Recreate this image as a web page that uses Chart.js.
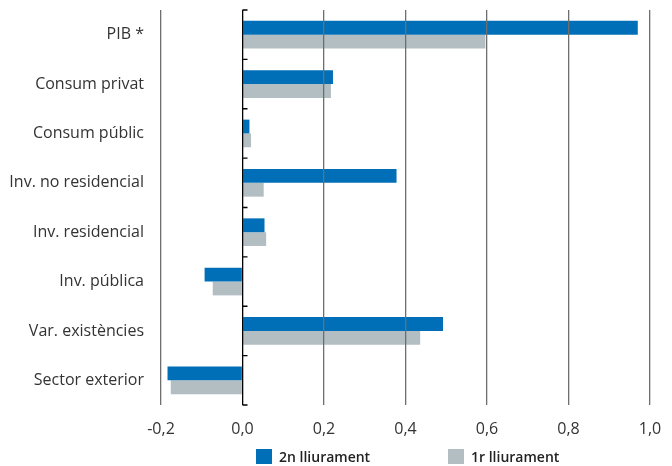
<!DOCTYPE html>
<html>
<head>
<meta charset="utf-8">
<script src="https://cdn.jsdelivr.net/npm/chart.js@4.4.1/dist/chart.umd.min.js"></script>
<style>
  html,body{margin:0;padding:0;background:#fff;}
  #wrap{position:relative;width:672px;height:466px;}
  #legend{position:absolute;top:449px;left:0;width:672px;height:16px;font-family:"Open Sans",sans-serif;font-size:14px;font-weight:600;color:#222;}
  .item{position:absolute;top:0;height:16px;line-height:16px;white-space:nowrap;}
  .box{display:inline-block;width:16px;height:15px;vertical-align:top;margin-right:7px;}
</style>
</head>
<body>
<div id="wrap">
  <canvas id="chart" width="672" height="466"></canvas>
  <div id="legend"></div>
</div>
<script>
var categories=['PIB *','Consum privat','Consum públic','Inv. no residencial','Inv. residencial','Inv. pública','Var. existències','Sector exterior'];
var segon=[0.97,0.222,0.017,0.378,0.054,-0.093,0.492,-0.184];
var primer=[0.596,0.217,0.021,0.052,0.058,-0.073,0.436,-0.176];
var seriesNames=['2n lliurament','1r lliurament'];
var colors=['#006fb7','#b3bec3'];
var xTicks=[-0.2,0,0.2,0.4,0.6,0.8,1.0];

// little black marks on the zero line, one at each category boundary
var zeroTicks={
  id:'zeroTicks',
  afterDatasetsDraw:function(chart){
    var ctx=chart.ctx,x=chart.scales.x,y=chart.scales.y;
    var x0=x.getPixelForValue(0);
    var half=(y.getPixelForValue(1)-y.getPixelForValue(0))/2;
    ctx.save();
    ctx.strokeStyle='#000';
    ctx.lineWidth=1.3;
    ctx.beginPath();
    for(var i=0;i<=categories.length;i++){
      var py=y.getPixelForValue(i)-half;
      ctx.moveTo(x0,py);ctx.lineTo(x0+5,py);
    }
    ctx.stroke();
    ctx.restore();
  }
};

var ctx=document.getElementById('chart').getContext('2d');
var chart=new Chart(ctx,{
  type:'bar',
  data:{
    labels:categories,
    datasets:[
      {label:seriesNames[0],data:segon,backgroundColor:colors[0]},
      {label:seriesNames[1],data:primer,backgroundColor:colors[1]}
    ]
  },
  options:{
    indexAxis:'y',
    responsive:false,
    animation:false,
    devicePixelRatio:1,
    categoryPercentage:0.56,
    barPercentage:1,
    layout:{padding:{top:10,right:22,bottom:0,left:0}},
    plugins:{legend:{display:false},tooltip:{enabled:false}},
    scales:{
      x:{
        min:-0.2,max:1.0,
        afterBuildTicks:function(s){s.ticks=xTicks.map(function(v){return {value:v};});},
        afterFit:function(s){s.height=61;s.paddingLeft=0;s.paddingRight=0;},
        grid:{
          z:1,drawTicks:false,
          color:function(c){return c.tick&&Math.abs(c.tick.value)<1e-9?'#000':'#6e6e6e';},
          lineWidth:1.3
        },
        border:{display:false},
        ticks:{
          padding:15,color:'#333',
          font:{family:'"Open Sans", sans-serif',size:16},
          callback:function(v){return Number(v).toFixed(1).replace('.',',');}
        }
      },
      y:{
        afterFit:function(s){s.width=161;s.paddingTop=0;s.paddingBottom=0;},
        grid:{display:false,drawTicks:false},
        border:{display:false},
        ticks:{
          padding:17,color:'#333',
          font:{family:'"Open Sans", sans-serif',size:16}
        }
      }
    }
  },
  plugins:[zeroTicks]
});

// legend in html, centred under the plot area like the original
var lg=document.getElementById('legend');
var lx=[256,448];
seriesNames.forEach(function(n,i){
  var d=document.createElement('div');
  d.className='item';
  d.style.left=lx[i]+'px';
  d.innerHTML='<span class="box" style="background:'+colors[i]+'"></span>'+n;
  lg.appendChild(d);
});
</script>
</body>
</html>
